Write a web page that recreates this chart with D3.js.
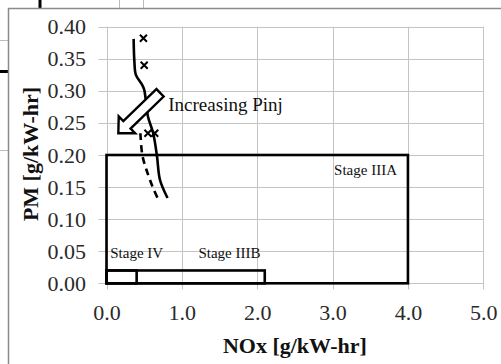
<!DOCTYPE html>
<html>
<head>
<meta charset="utf-8">
<script src="https://cdn.jsdelivr.net/npm/d3@7"></script>
<style>
  body { margin: 0; background: #fff; }
  svg { display: block; }
  svg text { font-family: "Liberation Serif"; }
</style>
</head>
<body>
<div id="wrapper"></div>
<script>
// values
const xTicks = [0, 1, 2, 3, 4, 5];
const yTicks = [0, 0.05, 0.10, 0.15, 0.20, 0.25, 0.30, 0.35, 0.40];

// solid curve (NOx, PM)
const solidNox = [0.36, 0.37, 0.39, 0.47, 0.50, 0.55, 0.62, 0.67, 0.71, 0.81];
const solidPm = [0.381, 0.346, 0.325, 0.310, 0.302, 0.260, 0.234, 0.198, 0.161, 0.133];

// dashed curve
const dashNox = [0.45, 0.475, 0.53, 0.61, 0.69];
const dashPm = [0.234, 0.200, 0.177, 0.151, 0.130];

// cross markers
const markNox = [0.49, 0.50, 0.55, 0.64];
const markPm = [0.382, 0.340, 0.234, 0.234];

// emission limit boxes
const stageNames = ["Stage IIIA", "Stage IIIB", "Stage IV"];
const stageNox = [4.0, 2.1, 0.4];
const stagePm = [0.20, 0.02, 0.02];

// arrow (tail -> tip), data units
const arrowTail = [0.71, 0.297];
const arrowTip = [0.157, 0.234];

const serif = "Liberation Serif";
const width = 501, height = 364;
const svg = d3.select("#wrapper").append("svg")
  .attr("width", width)
  .attr("height", height);

// bits of the spreadsheet behind the chart object
const bg = svg.append("g");
bg.append("line").attr("x1", 40).attr("x2", 40).attr("y1", 0).attr("y2", 8).attr("stroke", "#000").attr("stroke-width", 3);
bg.append("line").attr("x1", 119.5).attr("x2", 119.5).attr("y1", 0).attr("y2", 8).attr("stroke", "#bbb");
bg.append("line").attr("x1", 143.5).attr("x2", 143.5).attr("y1", 0).attr("y2", 8).attr("stroke", "#bbb");
bg.append("line").attr("x1", 0).attr("x2", 8).attr("y1", 40.5).attr("y2", 40.5).attr("stroke", "#bbb");
bg.append("line").attr("x1", 0).attr("x2", 8).attr("y1", 71.5).attr("y2", 71.5).attr("stroke", "#000").attr("stroke-width", 3);
bg.append("line").attr("x1", 0).attr("x2", 8).attr("y1", 150.5).attr("y2", 150.5).attr("stroke", "#bbb");

// chart frame
svg.append("rect")
  .attr("x", 8.5).attr("y", 8.5)
  .attr("width", width).attr("height", height)
  .attr("fill", "#fff")
  .attr("stroke", "#8a8a8a")
  .attr("stroke-width", 1.5);

const x = d3.scaleLinear().domain([0, 5]).range([106.5, 483.3]);
const y = d3.scaleLinear().domain([0, 0.4]).range([283.3, 26.7]);

const gridColor = "#c4c4c4";

// gridlines
svg.append("g").selectAll("line").data(yTicks).join("line")
  .attr("x1", x(0) - 8).attr("x2", x(5))
  .attr("y1", d => Math.round(y(d)) + 0.5).attr("y2", d => Math.round(y(d)) + 0.5)
  .attr("stroke", gridColor);
svg.append("g").selectAll("line").data(xTicks).join("line")
  .attr("x1", d => Math.round(x(d)) + 0.5).attr("x2", d => Math.round(x(d)) + 0.5)
  .attr("y1", y(0.4)).attr("y2", y(0) + 6)
  .attr("stroke", gridColor);

// axes (labels only, lines come from the grid)
const yAxis = svg.append("g")
  .attr("transform", `translate(${x(0)},0)`)
  .call(d3.axisLeft(y).tickValues(yTicks).tickFormat(d3.format(".2f")).tickSize(8).tickPadding(12.5));
const xAxis = svg.append("g")
  .attr("transform", `translate(0,${y(0)})`)
  .call(d3.axisBottom(x).tickValues(xTicks).tickFormat(d3.format(".1f")).tickSize(6).tickPadding(15.5));
[yAxis, xAxis].forEach(a => {
  a.attr("font-family", serif).attr("font-size", 22);
  a.select(".domain").remove();
  a.selectAll(".tick line").remove();
  a.selectAll("text").attr("fill", "#2a2a2a");
});

// axis titles
svg.append("text")
  .attr("transform", `translate(38,${(y(0) + y(0.4)) / 2 - 1}) rotate(-90)`)
  .attr("text-anchor", "middle")
  .attr("font-family", serif)
  .attr("font-weight", "bold")
  .attr("font-size", 22)
  .attr("fill", "#111")
  .text("PM [g/kW-hr]");
svg.append("text")
  .attr("x", (x(0) + x(5)) / 2)
  .attr("y", 353)
  .attr("text-anchor", "middle")
  .attr("font-family", serif)
  .attr("font-weight", "bold")
  .attr("font-size", 22)
  .attr("fill", "#111")
  .text("NOx [g/kW-hr]");

// limit boxes
svg.append("g").selectAll("rect").data(stageNox).join("rect")
  .attr("x", x(0))
  .attr("y", (d, i) => y(stagePm[i]))
  .attr("width", d => x(d) - x(0))
  .attr("height", (d, i) => y(0) - y(stagePm[i]))
  .attr("fill", "none")
  .attr("stroke", "#000")
  .attr("stroke-width", 2.6);

// stage labels
const stageLabelAt = [[3.02, 0.169], [1.22, 0.039], [0.05, 0.039]];
svg.append("g").selectAll("text").data(stageNames).join("text")
  .attr("x", (d, i) => x(stageLabelAt[i][0]))
  .attr("y", (d, i) => y(stageLabelAt[i][1]))
  .attr("font-family", serif)
  .attr("font-size", 15)
  .attr("fill", "#111")
  .text(d => d);

// curves
const solid = solidNox.map((d, i) => [d, solidPm[i]]);
const dashed = dashNox.map((d, i) => [d, dashPm[i]]);
const line = d3.line().x(d => x(d[0])).y(d => y(d[1])).curve(d3.curveCatmullRom);

svg.append("path")
  .datum(solid)
  .attr("d", line)
  .attr("fill", "none")
  .attr("stroke", "#000")
  .attr("stroke-width", 2.6);
svg.append("path")
  .datum(dashed)
  .attr("d", line)
  .attr("fill", "none")
  .attr("stroke", "#000")
  .attr("stroke-width", 2.6)
  .attr("stroke-dasharray", "7,5");

// markers
svg.append("g").selectAll("path").data(markNox).join("path")
  .attr("transform", (d, i) => `translate(${x(d)},${y(markPm[i])})`)
  .attr("d", "M-3.5,-3.5L3.5,3.5M-3.5,3.5L3.5,-3.5")
  .attr("stroke", "#000")
  .attr("stroke-width", 2);

// block arrow
const p0 = [x(arrowTail[0]), y(arrowTail[1])];
const p1 = [x(arrowTip[0]), y(arrowTip[1])];
const dx = p1[0] - p0[0], dy = p1[1] - p0[1];
const len = Math.hypot(dx, dy);
const ux = dx / len, uy = dy / len, nx = -uy, ny = ux;
const shaftW = 5.2, headW = 11.8, headL = 12;
const bx = p1[0] - ux * headL, by = p1[1] - uy * headL;
const pts = [
  [p0[0] + nx * shaftW, p0[1] + ny * shaftW],
  [bx + nx * shaftW, by + ny * shaftW],
  [bx + nx * headW, by + ny * headW],
  p1,
  [bx - nx * headW, by - ny * headW],
  [bx - nx * shaftW, by - ny * shaftW],
  [p0[0] - nx * shaftW, p0[1] - ny * shaftW]
];
svg.append("path")
  .attr("d", "M" + pts.map(p => p.join(",")).join("L") + "Z")
  .attr("fill", "#fff")
  .attr("stroke", "#000")
  .attr("stroke-width", 2.4)
  .attr("stroke-linejoin", "miter");

svg.append("text")
  .attr("x", x(0.82))
  .attr("y", y(0.268))
  .attr("font-family", serif)
  .attr("font-size", 19)
  .attr("fill", "#111")
  .text("Increasing Pinj");
</script>
</body>
</html>
